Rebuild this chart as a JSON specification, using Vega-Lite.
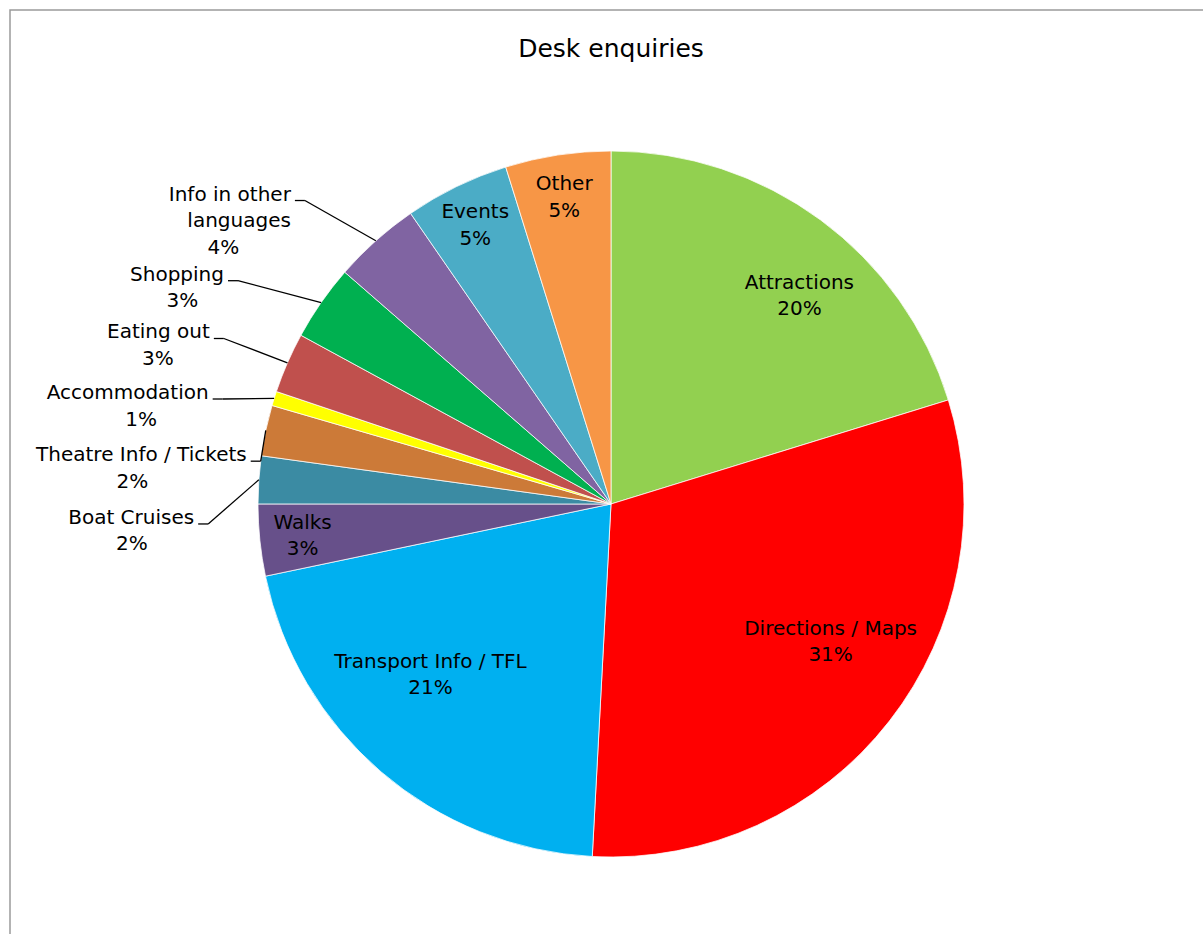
{
  "$schema": "https://vega.github.io/schema/vega-lite/v6.json",
  "width": 1202,
  "height": 988,
  "autosize": {"type": "none"},
  "padding": {"left": 10, "top": 10, "right": -9, "bottom": -64},
  "background": "white",
  "title": {"text": "Desk enquiries", "font": "DejaVu Sans", "fontSize": 25, "fontWeight": "normal", "color": "#000000", "anchor": "middle", "frame": "group", "offset": -52},
  "config": {"view": {"stroke": "#9a9a9a", "strokeWidth": 1.5}, "font": "DejaVu Sans"},
  "data": {"values": [
    {"name": "Attractions", "value": 20.24},
    {"name": "Directions / Maps", "value": 30.61},
    {"name": "Transport Info / TFL", "value": 20.88},
    {"name": "Walks", "value": 3.28},
    {"name": "Boat Cruises", "value": 2.18},
    {"name": "Theatre Info / Tickets", "value": 2.32},
    {"name": "Accommodation", "value": 0.66},
    {"name": "Eating out", "value": 2.77},
    {"name": "Shopping", "value": 3.47},
    {"name": "Info in other languages", "value": 3.99},
    {"name": "Events", "value": 4.79},
    {"name": "Other", "value": 4.82}
  ]},
  "transform": [
    {"window": [{"op": "row_number", "as": "idx"}]},
    {"joinaggregate": [{"op": "sum", "field": "value", "as": "total"}]},
    {"window": [{"op": "sum", "field": "value", "as": "cum"}], "sort": [{"field": "idx", "order": "ascending"}], "frame": [null, 0]},
    {"calculate": "datum.value / datum.total", "as": "pct"},
    {"calculate": "format(datum.pct, '.0%')", "as": "pctText"},
    {"calculate": "(datum.cum - datum.value / 2) / datum.total * 2 * PI", "as": "mid"},
    {"calculate": "datum.pct >= 0.045 || (datum.pct >= 0.03 && abs(cos(datum.mid)) < 0.2)", "as": "inside"},
    {"calculate": "length(datum.name) > 22 ? replace(datum.name, regexp('^(.{8,13}) '), '$1\\n') : datum.name", "as": "lname"},
    {"calculate": "datum.lname + '\\n' + datum.pctText", "as": "label"},
    {"calculate": "length(split(datum.label, '\\n'))", "as": "lines"},
    {"calculate": "353 * sin(datum.mid)", "as": "px"},
    {"calculate": "353 * cos(datum.mid)", "as": "py"}
  ],
  "layer": [
    {
      "mark": {"type": "arc", "outerRadius": 353, "stroke": "white", "strokeWidth": 0.75},
      "encoding": {
        "theta": {"field": "value", "type": "quantitative", "stack": true},
        "order": {"field": "idx", "type": "quantitative"},
        "color": {
          "field": "name", "type": "nominal", "legend": null,
          "scale": {
            "domain": ["Attractions", "Directions / Maps", "Transport Info / TFL", "Walks", "Boat Cruises", "Theatre Info / Tickets", "Accommodation", "Eating out", "Shopping", "Info in other languages", "Events", "Other"],
            "range": ["#92D050", "#FF0000", "#00B0F0", "#67508A", "#3B8BA3", "#CC7A38", "#FFFF00", "#C0504D", "#00B050", "#8064A2", "#4BACC6", "#F79646"]
          }
        }
      }
    },
    {
      "transform": [
        {"filter": "datum.inside"},
        {"calculate": "datum.pct > 0.15 ? datum.mid + 6 * PI / 180 * sin(2 * datum.mid) : datum.mid", "as": "lt"},
        {"calculate": "datum.pct > 0.15 ? 320 - 0.35 * 10.2 * length(datum.lname) : 310", "as": "lr"},
        {"calculate": "datum.lr * sin(datum.lt)", "as": "lx"},
        {"calculate": "datum.lr * cos(datum.lt) + (datum.lines - 1) * 13.25", "as": "ly"}
      ],
      "mark": {"type": "text", "font": "DejaVu Sans", "fontSize": 20, "lineBreak": "\n", "lineHeight": 26.5, "align": "center", "baseline": "middle", "color": "#000000"},
      "encoding": {
        "x": {"field": "lx", "type": "quantitative", "scale": {"domain": [-601, 601], "nice": false, "zero": false}, "axis": null},
        "y": {"field": "ly", "type": "quantitative", "scale": {"domain": [-494, 494], "nice": false, "zero": false}, "axis": null},
        "text": {"field": "label", "type": "nominal"}
      }
    },
    {
      "transform": [
        {"filter": "!datum.inside"},
        {"window": [{"op": "sum", "field": "lines", "as": "cl"}], "sort": [{"field": "idx", "order": "ascending"}], "frame": [null, 0]},
        {"calculate": "(263 + 3.75 * (datum.cl - datum.lines / 2)) * PI / 180", "as": "lt"},
        {"calculate": "480 * sin(datum.lt)", "as": "lx"},
        {"calculate": "480 * cos(datum.lt) + (datum.lines - 1) * 13.25", "as": "ly"},
        {"calculate": "indexof(datum.lname, '\\n') >= 0 ? indexof(datum.lname, '\\n') : length(datum.lname)", "as": "fl"},
        {"calculate": "datum.lx + 5.2 * datum.fl", "as": "ax"},
        {"calculate": "datum.ax + 4", "as": "tx"},
        {"calculate": "datum.tx + 10", "as": "ex"},
        {"calculate": "datum.ly - 6", "as": "fy"},
        {"calculate": "datum.ly - (datum.lines - 1) * 26.5", "as": "pyl"}
      ],
      "layer": [
        {
          "mark": {"type": "text", "font": "DejaVu Sans", "fontSize": 20, "lineBreak": "\n", "lineHeight": 26.5, "align": "right", "baseline": "middle", "color": "#000000"},
          "encoding": {
            "x": {"field": "ax", "type": "quantitative", "scale": {"domain": [-601, 601], "nice": false, "zero": false}, "axis": null},
            "y": {"field": "ly", "type": "quantitative", "scale": {"domain": [-494, 494], "nice": false, "zero": false}, "axis": null},
            "text": {"field": "lname", "type": "nominal"}
          }
        },
        {
          "mark": {"type": "text", "font": "DejaVu Sans", "fontSize": 20, "align": "center", "baseline": "middle", "color": "#000000"},
          "encoding": {
            "x": {"field": "lx", "type": "quantitative", "scale": {"domain": [-601, 601], "nice": false, "zero": false}, "axis": null},
            "y": {"field": "pyl", "type": "quantitative", "scale": {"domain": [-494, 494], "nice": false, "zero": false}, "axis": null},
            "text": {"field": "pctText", "type": "nominal"}
          }
        },
        {
          "mark": {"type": "rule", "color": "#000000", "strokeWidth": 1.3},
          "encoding": {
            "x": {"field": "tx", "type": "quantitative", "scale": {"domain": [-601, 601], "nice": false, "zero": false}, "axis": null},
            "x2": {"field": "ex"},
            "y": {"field": "fy", "type": "quantitative", "scale": {"domain": [-494, 494], "nice": false, "zero": false}, "axis": null},
            "y2": {"field": "fy"}
          }
        },
        {
          "mark": {"type": "rule", "color": "#000000", "strokeWidth": 1.3},
          "encoding": {
            "x": {"field": "ex", "type": "quantitative", "scale": {"domain": [-601, 601], "nice": false, "zero": false}, "axis": null},
            "x2": {"field": "px"},
            "y": {"field": "fy", "type": "quantitative", "scale": {"domain": [-494, 494], "nice": false, "zero": false}, "axis": null},
            "y2": {"field": "py"}
          }
        }
      ]
    }
  ]
}
